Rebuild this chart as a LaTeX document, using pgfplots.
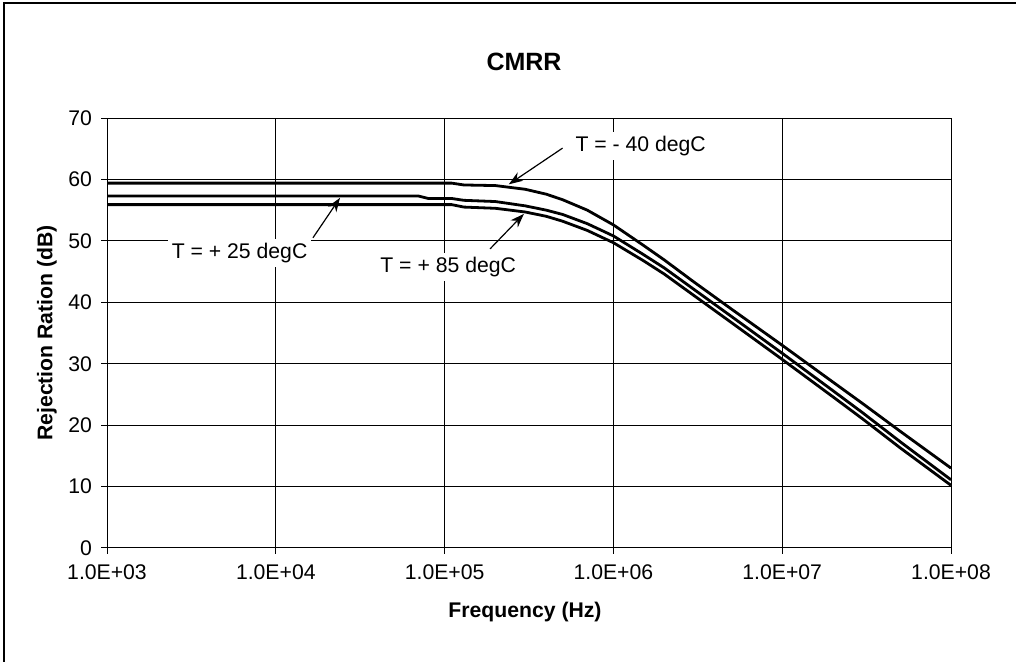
\documentclass[border=0pt]{standalone}
\usepackage{fontspec}
\setmainfont{Liberation Sans}
\usepackage{pgfplots}
\pgfplotsset{compat=1.18}
\usetikzlibrary{arrows.meta}

\newcommand{\lbl}{\fontsize{10.6}{12}\selectfont}

\begin{document}
\begin{tikzpicture}
% page frame: 1016 x 662 px at 0.5pt per px
\useasboundingbox (0,0) rectangle (508pt,331pt);
\draw[line width=0.9pt] (2pt,0) -- (2pt,329.5pt) -- (508pt,329.5pt);
\begin{axis}[
  at={(53.5pt,57pt)}, anchor=south west,
  scale only axis, width=422pt, height=215pt,
  xmode=log, xmin=1e3, xmax=1e8, ymin=0, ymax=70,
  xtick={1e3,1e4,1e5,1e6,1e7,1e8},
  xticklabels={1.0E+03,1.0E+04,1.0E+05,1.0E+06,1.0E+07,1.0E+08},
  ytick={0,10,20,30,40,50,60,70},
  minor xtick={}, log basis x=10,
  grid=major, major grid style={black, line width=0.5pt},
  axis line style={black, line width=0.5pt},
  tick style={black, line width=0.5pt},
  tick align=outside, major tick length=3pt,
  xtick pos=bottom, ytick pos=left,
  tick label style={font=\lbl},
  yticklabel style={xshift=-1pt},
  xticklabel style={yshift=-2pt},
  /pgf/number format/assume math mode=true,
  clip=false,
]
\addplot[black, line width=1.4pt] coordinates {
(1e3,59.4) (1.1e5,59.4) (1.3e5,59.1) (2e5,59.0) (3e5,58.4) (4e5,57.6) (5e5,56.7)
(7e5,55.0) (1e6,52.6) (1.5e6,49.3) (2e6,46.9) (3e6,43.3) (5e6,38.9) (1e7,33.0)
(2e7,27.0) (3e7,23.5) (5e7,19.0) (1e8,13.0)};
\addplot[black, line width=1.4pt] coordinates {
(1e3,57.3) (7e4,57.3) (8e4,56.9) (1.1e5,56.9) (1.3e5,56.6) (2e5,56.4) (3e5,55.7)
(4e5,55.0) (5e5,54.3) (7e5,52.8) (1e6,50.8) (1.5e6,47.8) (2e6,45.6) (3e6,42.1)
(5e6,37.7) (1e7,31.7) (2e7,25.6) (3e7,22.0) (5e7,17.3) (1e8,11.1)};
\addplot[black, line width=1.4pt] coordinates {
(1e3,55.9) (1.1e5,55.9) (1.3e5,55.5) (2e5,55.3) (3e5,54.7) (4e5,54.0) (5e5,53.2)
(7e5,51.7) (1e6,49.7) (1.5e6,46.8) (2e6,44.6) (3e6,41.1) (5e6,36.7) (1e7,30.7)
(2e7,24.6) (3e7,21.0) (5e7,16.3) (1e8,10.2)};
% annotations
\node[fill=white, font=\lbl, inner sep=2pt] at (axis cs:1.45e6,65.4) {T = - 40 degC};
\node[fill=white, font=\lbl, inner sep=2pt] at (axis cs:6.1e3,48.0) {T = + 25 degC};
\node[fill=white, font=\lbl, inner sep=2pt] at (axis cs:1.05e5,45.7) {T = + 85 degC};
\draw[-{Stealth[length=7pt,width=5pt]}, line width=0.6pt] (axis cs:5.0e5,65.1) -- (axis cs:2.4e5,59.2);
\draw[-{Stealth[length=7pt,width=5pt]}, line width=0.6pt] (axis cs:1.66e4,50.5) -- (axis cs:2.4e4,57.0);
\draw[-{Stealth[length=7pt,width=5pt]}, line width=0.6pt] (axis cs:1.86e5,48.7) -- (axis cs:2.95e5,54.4);
\end{axis}
\node[font=\fontsize{12.5}{14}\selectfont\bfseries] at (262pt,300pt) {CMRR};
\node[font=\lbl\bfseries] at (262.5pt,25pt) {Frequency (Hz)};
\node[font=\lbl\bfseries, rotate=90] at (23.5pt,164.5pt) {Rejection Ration (dB)};
\end{tikzpicture}
\end{document}
